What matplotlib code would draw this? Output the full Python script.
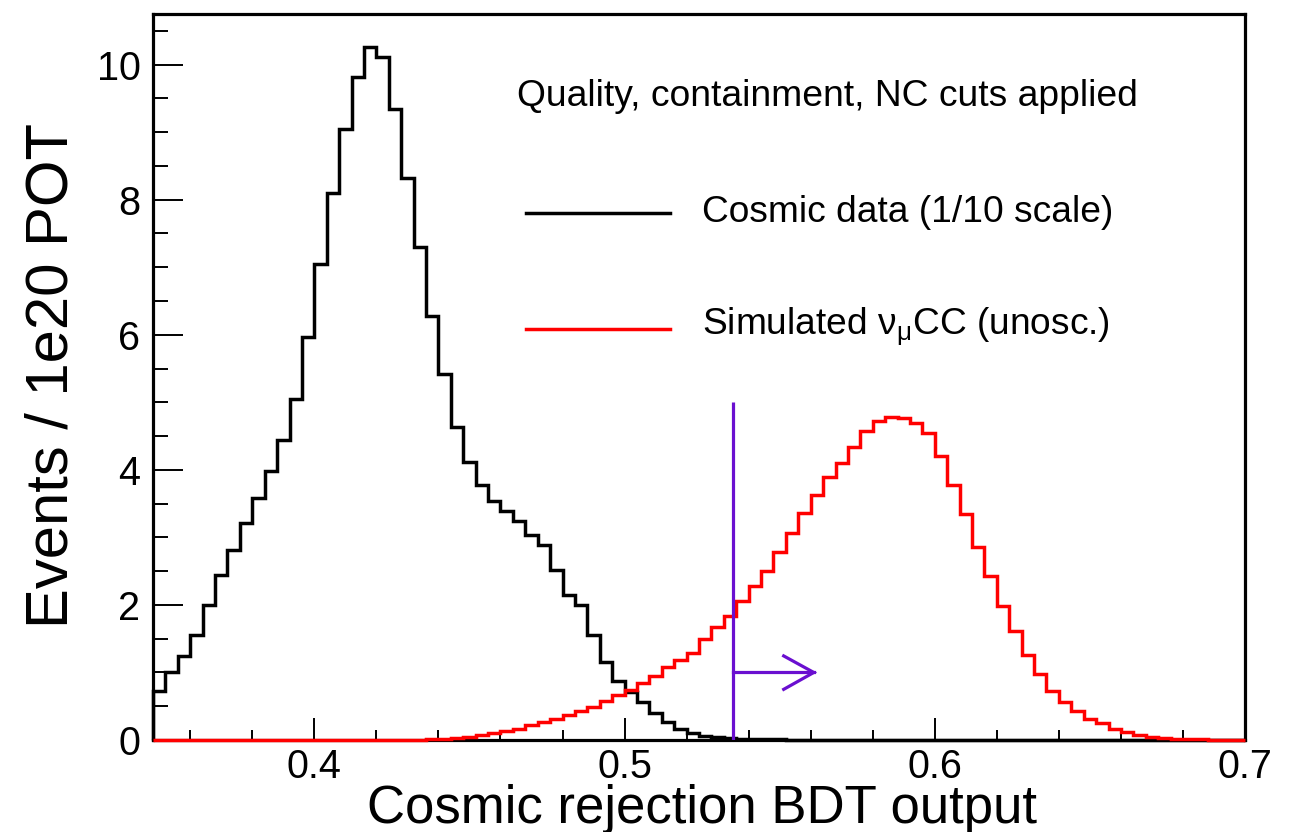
import numpy as np
import matplotlib
matplotlib.use("Agg")
import matplotlib.pyplot as plt
from matplotlib.ticker import MultipleLocator

plt.rcParams['font.family'] = ['Liberation Sans', 'DejaVu Sans']
plt.rcParams['mathtext.fontset'] = 'custom'
plt.rcParams['mathtext.rm'] = 'Liberation Sans'
plt.rcParams['mathtext.it'] = 'Liberation Sans'

# ---- data ----
bin_lo, bin_hi, n_bins = 0.348, 0.700, 88

cosmic = [0.73, 1.00, 1.24, 1.55, 2.00, 2.44, 2.82, 3.21, 3.58, 3.98,
          4.44, 5.05, 5.96, 7.05, 8.10, 9.05, 9.82, 10.26, 10.12, 9.34,
          8.32, 7.30, 6.28, 5.42, 4.63, 4.12, 3.78, 3.54, 3.39, 3.25,
          3.04, 2.88, 2.52, 2.14, 2.00, 1.55, 1.16, 0.87, 0.71, 0.56,
          0.40, 0.27, 0.16, 0.10, 0.06, 0.04, 0.03, 0.02, 0.015, 0.01,
          0.01, 0.005, 0.005, 0.003, 0.0, 0.0, 0.0, 0.0, 0.0, 0.0,
          0.0, 0.0, 0.0, 0.0, 0.0, 0.0, 0.0, 0.0, 0.0, 0.0,
          0.0, 0.0, 0.0, 0.0, 0.0, 0.0, 0.0, 0.0, 0.0, 0.0,
          0.0, 0.0, 0.0, 0.0, 0.0, 0.0, 0.0, 0.0]

numu_cc = [0.0, 0.0, 0.0, 0.0, 0.0, 0.0, 0.0, 0.0, 0.0, 0.0,
           0.0, 0.0, 0.0, 0.0, 0.0, 0.0, 0.0, 0.0, 0.0, 0.0,
           0.0, 0.005, 0.01, 0.02, 0.03, 0.05, 0.07, 0.10, 0.14, 0.17,
           0.22, 0.26, 0.31, 0.37, 0.43, 0.49, 0.58, 0.67, 0.74, 0.85,
           0.95, 1.08, 1.18, 1.29, 1.50, 1.67, 1.83, 2.06, 2.28, 2.50,
           2.78, 3.06, 3.36, 3.63, 3.89, 4.10, 4.34, 4.57, 4.72, 4.78,
           4.77, 4.69, 4.54, 4.21, 3.78, 3.34, 2.86, 2.43, 1.99, 1.62,
           1.26, 0.98, 0.73, 0.56, 0.43, 0.31, 0.25, 0.16, 0.12, 0.08,
           0.05, 0.03, 0.02, 0.01, 0.01, 0.005, 0.005, 0.0]

cut_value = 0.535
cut_line_top = 5.0
arrow_y = 1.0
arrow_len = 0.026

x_ticks = [0.4, 0.5, 0.6, 0.7]
x_tick_labels = ["0.4", "0.5", "0.6", "0.7"]
y_ticks = [0, 2, 4, 6, 8, 10]
y_tick_labels = ["0", "2", "4", "6", "8", "10"]

header = "Quality, containment, NC cuts applied"
label_cosmic = "Cosmic data (1/10 scale)"
label_numu = r"Simulated $\mathrm{\nu}_{\mathrm{\mu}}$CC (unosc.)"
xlabel = "Cosmic rejection BDT output"
ylabel = "Events / 1e20 POT"

# ---- figure ----
W, H = 1301, 832
fig = plt.figure(figsize=(W / 100, H / 100), dpi=100)
ax = fig.add_axes([153 / W, 1 - 740 / H, (1245 - 153) / W, (740 - 14) / H])

edges = np.linspace(bin_lo, bin_hi, n_bins + 1)
ax.stairs(cosmic, edges, color='black', lw=2.5, zorder=2.8, clip_on=False)
ax.stairs(numu_cc, edges, color='#ff0000', lw=2.5, zorder=3, clip_on=False)

purple = '#6a0fd0'
ax.plot([cut_value, cut_value], [0, cut_line_top], color=purple, lw=2.3, zorder=4,
        solid_capstyle='butt')
tip = cut_value + arrow_len
ax.plot([cut_value, tip], [arrow_y, arrow_y], color=purple, lw=2.3, zorder=4)
ax.plot([tip - 0.0097, tip, tip - 0.0097], [arrow_y + 0.245, arrow_y, arrow_y - 0.25],
        color=purple, lw=2.3, zorder=4, solid_joinstyle='miter')

ax.set_xlim(bin_lo, bin_hi)
ax.set_ylim(0, 10.75)
ax.set_xticks(x_ticks)
ax.set_xticklabels(x_tick_labels)
ax.set_yticks(y_ticks)
ax.set_yticklabels(y_tick_labels)
ax.xaxis.set_minor_locator(MultipleLocator(0.02))
ax.yaxis.set_minor_locator(MultipleLocator(0.5))
ax.tick_params(axis='both', which='both', direction='in', top=False, right=False,
               labelsize=28.5, width=1.4, color='black')
ax.tick_params(axis='x', which='major', length=15.8, pad=6)
ax.tick_params(axis='x', which='minor', length=7.2)
ax.tick_params(axis='y', which='major', length=21.6, pad=9)
ax.tick_params(axis='y', which='minor', length=10.8)
for s in ax.spines.values():
    s.set_linewidth(2.3)

# legend / header
fig.text(517 / W, 1 - 97 / H, header, fontsize=26.8, ha='left', va='center')
fig.add_artist(plt.Line2D([526 / W, 670 / W], [1 - 213 / H, 1 - 213 / H],
                          color='black', lw=2.5, transform=fig.transFigure))
fig.add_artist(plt.Line2D([526 / W, 670 / W], [1 - 329 / H, 1 - 329 / H],
                          color='#ff0000', lw=2.5, transform=fig.transFigure))
fig.text(702 / W, 1 - 213 / H, label_cosmic, fontsize=26.7, ha='left', va='center')
fig.text(702 / W, 1 - 327 / H, label_numu, fontsize=26.7, ha='left', va='center')

fig.text(702 / W, 1 - 809 / H, xlabel, fontsize=38, ha='center', va='center')
fig.text(52 / W, 1 - 375 / H, ylabel, fontsize=43, ha='center', va='center', rotation=90)

fig.savefig("out.png", dpi=100)
